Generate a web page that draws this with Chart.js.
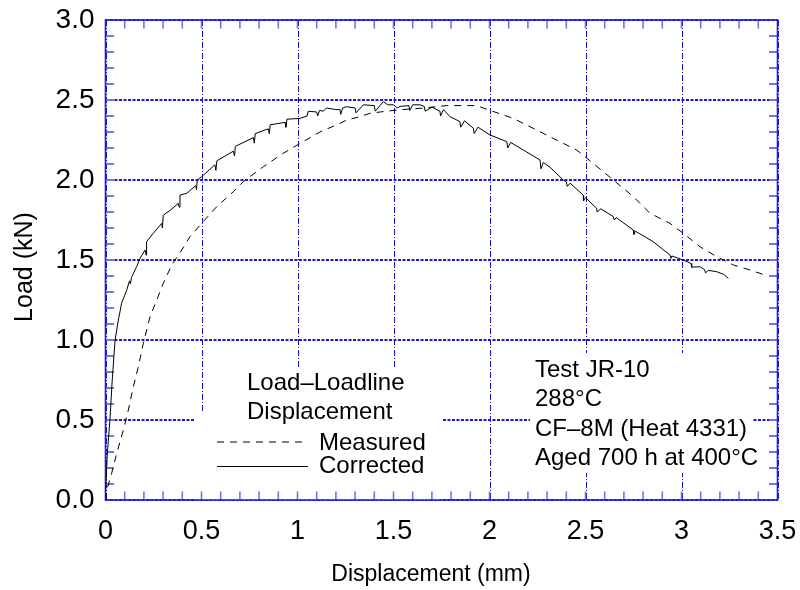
<!DOCTYPE html>
<html><head><meta charset="utf-8">
<script src="https://cdn.jsdelivr.net/npm/chart.js@4"></script>
<style>html,body{margin:0;padding:0;background:#fff}#wrap{width:800px;height:590px;position:relative}</style>
</head><body><div id="wrap"><canvas id="c" width="800" height="590"></canvas></div>
<script>
// ---- data ----
const xTickLabels = ['0','0.5','1','1.5','2','2.5','3','3.5'];
const yTickLabels = ['0.0','0.5','1.0','1.5','2.0','2.5','3.0'];
const xAxisTitle = 'Displacement (mm)';
const yAxisTitle = 'Load (kN)';
const seriesNames = ['Measured', 'Corrected'];
const legendTitle = ['Load–Loadline', 'Displacement'];
const noteLines = ['Test JR-10', '288°C', 'CF–8M (Heat 4331)', 'Aged 700 h at 400°C'];

const measuredX = [0.0,0.006,0.032,0.058,0.093,0.119,0.145,0.171,0.197,0.232,0.267,0.301,0.345,0.397,0.44,0.501,0.579,0.666,0.718,0.822,0.926,1.013,1.117,1.221,1.256,1.326,1.378,1.43,1.517,1.638,1.777,1.933,2.003,2.124,2.211,2.332,2.454,2.54,2.645,2.749,2.836,2.94,3.009,3.096,3.183,3.27,3.357,3.45];
const measuredY = [0.0,0.06,0.167,0.29,0.4375,0.5625,0.708,0.833,0.979,1.146,1.25,1.354,1.469,1.5625,1.646,1.729,1.833,1.927,1.99,2.083,2.167,2.229,2.30,2.354,2.375,2.396,2.417,2.425,2.4375,2.448,2.465,2.465,2.435,2.385,2.333,2.26,2.1875,2.104,2.0,1.896,1.792,1.729,1.667,1.583,1.521,1.469,1.4375,1.40];

const correctedX = [0.0,0.01,0.023,0.035,0.05,0.067,0.084,0.11,0.125,0.13,0.135,0.162,0.18,0.206,0.212,0.214,0.249,0.293,0.296,0.301,0.336,0.379,0.384,0.388,0.423,0.47,0.474,0.478,0.5,0.57,0.575,0.58,0.666,0.672,0.676,0.77,0.775,0.78,0.848,0.853,0.858,0.935,0.94,0.945,1.013,1.05,1.056,1.10,1.105,1.115,1.134,1.152,1.20,1.221,1.225,1.235,1.256,1.30,1.305,1.343,1.40,1.405,1.447,1.47,1.50,1.52,1.534,1.58,1.585,1.60,1.638,1.66,1.665,1.70,1.742,1.745,1.76,1.794,1.846,1.85,1.87,1.916,1.92,1.94,2.003,2.09,2.095,2.11,2.176,2.263,2.268,2.28,2.315,2.384,2.40,2.405,2.42,2.488,2.49,2.50,2.558,2.56,2.58,2.645,2.65,2.66,2.749,2.752,2.76,2.852,2.94,2.945,2.95,3.009,3.05,3.053,3.096,3.12,3.125,3.14,3.183,3.22,3.244];
const correctedY = [0.05,0.3,0.5,0.75,1.0,1.125,1.23,1.31,1.37,1.35,1.39,1.458,1.51,1.5625,1.53,1.615,1.667,1.729,1.70,1.78,1.81,1.854,1.83,1.906,1.917,1.965,1.94,2.0,2.02,2.095,2.06,2.12,2.18,2.15,2.21,2.265,2.23,2.29,2.32,2.29,2.345,2.36,2.33,2.38,2.385,2.40,2.43,2.425,2.40,2.435,2.43,2.45,2.44,2.44,2.41,2.45,2.458,2.45,2.42,2.47,2.465,2.43,2.49,2.47,2.47,2.45,2.46,2.465,2.435,2.47,2.47,2.46,2.43,2.455,2.43,2.40,2.44,2.396,2.365,2.33,2.37,2.323,2.29,2.33,2.281,2.24,2.20,2.235,2.1875,2.125,2.07,2.11,2.08,2.0,1.99,1.96,1.98,1.906,1.87,1.89,1.823,1.80,1.82,1.771,1.75,1.765,1.6875,1.66,1.68,1.615,1.531,1.51,1.525,1.5,1.478,1.455,1.458,1.44,1.42,1.435,1.427,1.41,1.385];

// ---- styling ----
const FONT = '"Liberation Sans", Arial, Helvetica, sans-serif';
const toPts = (xs, ys) => xs.map((x, i) => ({x: x, y: ys[i]}));
const MINOR_STEP = 0.1;

const boxes = [
  {x0: 195, y0: 412, x1: 442, y1: 500},
  {x0: 240, y0: 367, x1: 412, y1: 412},
  {x0: 530, y0: 353, x1: 753, y1: 473}
];

const decor = {
  id: 'decor',
  beforeDatasetsDraw(chart) {
    const {ctx, chartArea: a, scales: {x, y}} = chart;
    ctx.save();
    // vertical grid
    ctx.strokeStyle = '#1212c8'; ctx.lineWidth = 1; ctx.setLineDash([6,2,1,2]);
    xTickLabels.forEach(l => {
      const px = Math.round(x.getPixelForValue(parseFloat(l))) + 0.5;
      ctx.beginPath(); ctx.moveTo(px, a.top); ctx.lineTo(px, a.bottom); ctx.stroke();
    });
    // horizontal grid
    ctx.strokeStyle = '#1a1ad6'; ctx.lineWidth = 2; ctx.setLineDash([3,1.5]);
    yTickLabels.forEach(l => {
      const py = y.getPixelForValue(parseFloat(l));
      ctx.beginPath(); ctx.moveTo(a.left, py); ctx.lineTo(a.right, py); ctx.stroke();
    });
    ctx.setLineDash([]);
    // white text boxes
    ctx.fillStyle = '#fff';
    boxes.forEach(b => ctx.fillRect(b.x0, b.y0, b.x1 - b.x0, b.y1 - b.y0));
    // minor ticks on all four sides
    const TL = 8.5;
    ctx.strokeStyle = '#7474ee'; ctx.lineWidth = 1.6;
    for (let v = x.min + MINOR_STEP; v < x.max - 1e-9; v += MINOR_STEP) {
      const px = x.getPixelForValue(v);
      ctx.beginPath();
      ctx.moveTo(px, a.bottom); ctx.lineTo(px, a.bottom - TL);
      ctx.moveTo(px, a.top); ctx.lineTo(px, a.top + TL);
      ctx.stroke();
    }
    ctx.lineWidth = 2;
    for (let v = y.min + MINOR_STEP; v < y.max - 1e-9; v += MINOR_STEP) {
      const py = y.getPixelForValue(v);
      ctx.beginPath();
      ctx.moveTo(a.left, py); ctx.lineTo(a.left + TL, py);
      ctx.moveTo(a.right, py); ctx.lineTo(a.right - TL, py);
      ctx.stroke();
    }
    // frame
    ctx.strokeStyle = '#1f1fdc'; ctx.lineWidth = 1.6;
    ctx.strokeRect(a.left, a.top, a.right - a.left, a.bottom - a.top);
    ctx.restore();
  },
  afterDatasetsDraw(chart) {
    const {ctx} = chart;
    ctx.save();
    ctx.fillStyle = '#000';
    ctx.font = '24px ' + FONT;
    ctx.textAlign = 'left'; ctx.textBaseline = 'alphabetic';
    // legend title
    ctx.fillText(legendTitle[0], 247, 390);
    ctx.fillText(legendTitle[1], 247, 419);
    // legend entries
    const ds = chart.data.datasets;
    const ly = [441.5, 466];
    const lt = [449.5, 473];
    ds.forEach((d, i) => {
      ctx.strokeStyle = d.borderColor; ctx.lineWidth = 1;
      ctx.setLineDash(d.borderDash || []);
      ctx.beginPath(); ctx.moveTo(217, ly[i] + 0.5); ctx.lineTo(308, ly[i] + 0.5); ctx.stroke();
      ctx.setLineDash([]);
      ctx.fillText(d.label, 319, lt[i]);
    });
    // note block
    noteLines.forEach((t, i) => ctx.fillText(t, 535, 377 + i * 29.3));
    // axis titles
    ctx.textAlign = 'center'; ctx.textBaseline = 'middle';
    ctx.font = '23px ' + FONT;
    ctx.fillText(xAxisTitle, 431, 575);
    ctx.save();
    ctx.translate(25, 267); ctx.rotate(-Math.PI / 2);
    ctx.font = '25px ' + FONT;
    ctx.fillText(yAxisTitle, 0, 0);
    ctx.restore();
    ctx.restore();
  }
};

new Chart(document.getElementById('c'), {
  type: 'scatter',
  data: {
    datasets: [
      {label: seriesNames[0], data: toPts(measuredX, measuredY), showLine: true, borderColor: '#000', borderWidth: 1, borderDash: [7,6], pointRadius: 0, tension: 0, fill: false},
      {label: seriesNames[1], data: toPts(correctedX, correctedY), showLine: true, borderColor: '#000', borderWidth: 1, pointRadius: 0, tension: 0, fill: false}
    ]
  },
  options: {
    responsive: false, animation: false, devicePixelRatio: 1,
    layout: {padding: {top: 20, right: 22.5, left: 0, bottom: 0}},
    plugins: {legend: {display: false}, tooltip: {enabled: false}},
    scales: {
      x: {
        type: 'linear', min: 0, max: 3.5,
        afterBuildTicks: s => { s.ticks = xTickLabels.map(l => ({value: parseFloat(l)})); },
        afterFit: s => { s.height = 90; s.paddingLeft = 0; s.paddingRight = 0; },
        grid: {display: false, drawTicks: false}, border: {display: false},
        ticks: {padding: 15, color: '#000', font: {family: FONT, size: 27}, maxRotation: 0, autoSkip: false,
                callback: (v, i) => xTickLabels[i]},
        title: {display: false}
      },
      y: {
        type: 'linear', min: 0, max: 3,
        afterBuildTicks: s => { s.ticks = yTickLabels.map(l => ({value: parseFloat(l)})); },
        afterFit: s => { s.width = 105.5; s.paddingTop = 0; s.paddingBottom = 0; },
        grid: {display: false, drawTicks: false}, border: {display: false},
        ticks: {padding: 11, color: '#000', font: {family: FONT, size: 28}, autoSkip: false,
                callback: (v, i) => yTickLabels[i]},
        title: {display: false}
      }
    }
  },
  plugins: [decor]
});
</script>
</body></html>
